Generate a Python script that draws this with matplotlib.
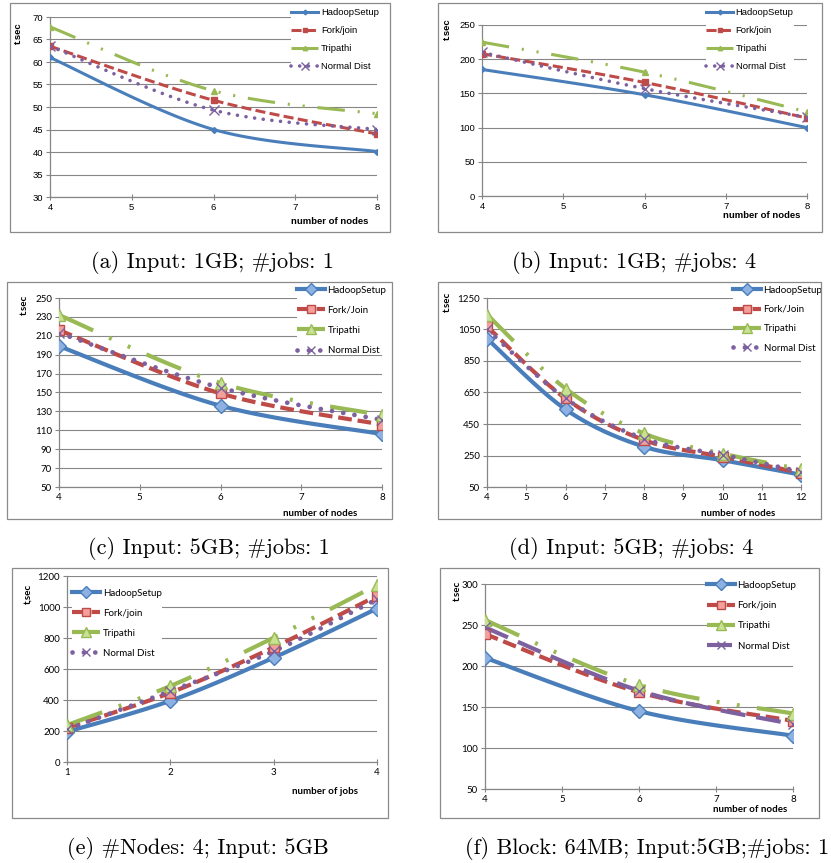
import numpy as np
import matplotlib
matplotlib.use("Agg")
import matplotlib.pyplot as plt
from matplotlib.lines import Line2D
from matplotlib.patches import Rectangle

W, H = 831, 863

series_names = ["HadoopSetup", "Fork/join", "Tripathi", "Normal Dist"]

# (a) Input: 1GB; #jobs: 1
nodes_a = [4, 6, 8]
hadoop_a = [61, 45, 40.1]
fork_a = [63.5, 51.5, 44]
tripathi_a = [67.8, 53.6, 48.5]
normal_a = [63.5, 49.3, 45]

# (b) Input: 1GB; #jobs: 4
nodes_b = [4, 6, 8]
hadoop_b = [185, 148, 100]
fork_b = [208, 166, 114]
tripathi_b = [225, 181, 123]
normal_b = [210, 157, 115]

# (c) Input: 5GB; #jobs: 1
nodes_c = [4, 6, 8]
hadoop_c = [199, 136, 106]
fork_c = [216, 149, 116]
tripathi_c = [232, 160, 126]
normal_c = [213, 155, 121]

# (d) Input: 5GB; #jobs: 4
nodes_d = [4, 6, 8, 10, 12]
hadoop_d = [992, 543, 306, 220, 128]
fork_d = [1070, 612, 348, 242, 140]
tripathi_d = [1145, 675, 390, 262, 162]
normal_d = [1052, 612, 357, 255, 147]

# (e) #Nodes: 4; Input: 5GB
jobs_e = [1, 2, 3, 4]
hadoop_e = [195, 395, 673, 990]
fork_e = [221, 447, 740, 1072]
tripathi_e = [238, 490, 802, 1142]
normal_e = [210, 458, 715, 1050]

# (f) Block: 64MB; Input:5GB;#jobs: 1
nodes_f = [4, 6, 8]
hadoop_f = [210, 145, 115]
fork_f = [239, 168, 133]
tripathi_f = [256, 177, 142]
normal_f = [247, 170, 129]

captions = ["(a) Input: 1GB; #jobs: 1", "(b) Input: 1GB; #jobs: 4",
            "(c) Input: 5GB; #jobs: 1", "(d) Input: 5GB; #jobs: 4",
            "(e) #Nodes: 4; Input: 5GB", "(f) Block: 64MB; Input:5GB;#jobs: 1"]

BLUE, RED, GREEN, PURPLE = "#4A7EBB", "#BE4B48", "#98B954", "#7D60A0"
LBLUE, LRED, LGREEN = "#8DB1E2", "#F3A09D", "#C8E294"
GRID = "#868686"


def fx(px):
    return px / W


def fy(py):
    return 1 - py / H


def smooth(x, y, n=40):
    # excel-like smoothed line (catmull-rom through the data points)
    p = np.column_stack([x, y]).astype(float)
    ext = np.vstack([p[0], p, p[-1]])
    m = (ext[2:] - ext[:-2]) / 2
    t = np.linspace(0, 1, n)[:, None]
    h00 = 2 * t**3 - 3 * t**2 + 1
    h10 = t**3 - 2 * t**2 + t
    h01 = -2 * t**3 + 3 * t**2
    h11 = t**3 - t**2
    segs = []
    for i in range(len(p) - 1):
        seg = h00 * p[i] + h10 * m[i] + h01 * p[i + 1] + h11 * m[i + 1]
        segs.append(seg if i == 0 else seg[1:])
    c = np.vstack(segs)
    return c[:, 0], c[:, 1]


def styles(big, normal_dashed=False):
    lw = 3.0 if big else 2.2
    ms = 7.5 if big else 3.5
    st = [
        dict(color=BLUE, lw=lw, ls="-", marker="D", ms=ms if big else 3,
             mfc=LBLUE if big else BLUE, mec=BLUE, mew=1, cap="butt"),
        dict(color=RED, lw=lw, ls=(0, (3.3, 1.4)), marker="s", ms=ms if big else 4,
             mfc=LRED if big else RED, mec=RED, mew=1, cap="butt"),
        dict(color=GREEN, lw=lw, ls=(0, (9, 4.2, 0.7, 4.2, 0.7, 4.2)), marker="^",
             ms=ms + 1 if big else 4, mfc=LGREEN if big else GREEN, mec=GREEN, mew=1,
             cap="butt"),
        dict(color=PURPLE, lw=lw + 0.4, ls=(0, (0.01, 2.4)), marker="x", ms=7,
             mfc=PURPLE, mec=PURPLE, mew=1, cap="round"),
    ]
    if normal_dashed:
        st[3]["ls"] = (0, (6, 2.6))
        st[3]["lw"] = lw
        st[3]["cap"] = "butt"
    return st


panels = [
    dict(x=nodes_a, ys=[hadoop_a, fork_a, tripathi_a, normal_a],
         ax=(50, 17, 377, 197), box=(10, 3, 390, 232), ylim=(30, 70), ystep=5,
         big=False, font="Liberation Sans", names=series_names,
         leg=(291, 15, 18.5), ylab=("t.sec", 18, 33), xlab=(368, 222),
         cap=(212, 263)),
    dict(x=nodes_b, ys=[hadoop_b, fork_b, tripathi_b, normal_b],
         ax=(482, 25, 807, 196), box=(438, 3, 822, 232), ylim=(0, 250), ystep=50,
         big=False, font="Liberation Sans", names=series_names,
         leg=(706, 15, 18.5), ylab=("t.sec", 447, 29), xlab=(800, 215),
         cap=(634, 263)),
    dict(x=nodes_c, ys=[hadoop_c, fork_c, tripathi_c, normal_c],
         ax=(59, 298, 382, 487), box=(7, 282, 392, 519), ylim=(50, 250), ystep=20,
         big=True, font="Lato", names=["HadoopSetup", "Fork/Join", "Tripathi", "Normal Dist"],
         leg=(297, 293, 20.8), ylab=("t.sec", 24, 305), xlab=(357, 513),
         cap=(209, 548)),
    dict(x=nodes_d, ys=[hadoop_d, fork_d, tripathi_d, normal_d],
         ax=(487, 298, 801, 487), box=(438, 282, 821, 519), ylim=(50, 1250), ystep=200,
         big=True, font="Lato", names=["HadoopSetup", "Fork/Join", "Tripathi", "Normal Dist"],
         leg=(733, 293, 20), ylab=("t.sec", 447, 302), xlab=(775, 513),
         cap=(631, 548)),
    dict(x=jobs_e, ys=[hadoop_e, fork_e, tripathi_e, normal_e],
         ax=(67, 576, 377, 762), box=(12, 568, 388, 818), ylim=(0, 1200), ystep=200,
         big=True, font="Lato", names=series_names,
         leg=(72, 596, 20.7), ylab=("t,sec", 28, 594), xlab=(358, 791),
         cap=(198, 848), xname="number of jobs"),
    dict(x=nodes_f, ys=[hadoop_f, fork_f, tripathi_f, normal_f],
         ax=(485, 584, 793, 789), box=(440, 568, 819, 818), ylim=(50, 300), ystep=50,
         big=True, font="Lato", names=series_names, normal_dashed=True,
         leg=(707, 588, 21), ylab=("t.sec", 457, 591), xlab=(787, 809),
         cap=(647, 848)),
]

fig = plt.figure(figsize=(W / 100, H / 100), dpi=100)

for i, p in enumerate(panels):
    l, t, r, b = p["ax"]
    ax = fig.add_axes([fx(l), fy(b), fx(r) - fx(l), fy(t) - fy(b)])
    st = styles(p["big"], p.get("normal_dashed", False))
    fs = 7 if p["big"] else 6.8
    font = p["font"]

    for ys, s in zip(p["ys"], st):
        sx, sy = smooth(p["x"], ys)
        ax.plot(sx, sy, color=s["color"], lw=s["lw"], ls=s["ls"],
                solid_capstyle="butt", dash_capstyle=s["cap"], zorder=3)
        ax.plot(p["x"], ys, ls="none", marker=s["marker"], ms=s["ms"],
                mfc=s["mfc"], mec=s["mec"], mew=s["mew"], zorder=4)

    x = p["x"]
    ax.set_xlim(x[0], x[-1])
    ax.set_ylim(*p["ylim"])
    ax.set_xticks(np.arange(x[0], x[-1] + 1, 1))
    ax.set_yticks(np.arange(p["ylim"][0], p["ylim"][1] + 1, p["ystep"]))
    ax.yaxis.grid(True, color=GRID, lw=0.8)
    ax.set_axisbelow(True)
    for side in ["top", "right"]:
        ax.spines[side].set_visible(False)
    for side in ["left", "bottom"]:
        ax.spines[side].set_color(GRID)
        ax.spines[side].set_linewidth(0.9)
    ax.tick_params(axis="x", direction="inout", length=4, width=0.8, color=GRID,
                   labelsize=fs, pad=2)
    ax.tick_params(axis="y", direction="out", length=3, width=0.8, color=GRID,
                   labelsize=fs, pad=2)
    for lab in ax.get_xticklabels() + ax.get_yticklabels():
        lab.set_fontfamily(font)

    # legend
    lx, ly, pitch = p["leg"]
    handles = [Line2D([], [], color=s["color"], lw=s["lw"], ls=s["ls"],
                      dash_capstyle=s["cap"], marker=s["marker"], ms=s["ms"] * 0.8,
                      mfc=s["mfc"], mec=s["mec"], mew=s["mew"]) for s in st]
    lfs = 7 if p["big"] else 6.8
    leg = ax.legend(handles, p["names"], loc="upper left",
                    bbox_to_anchor=(fx(lx), fy(ly - 0.75 * lfs * 1.39)),
                    bbox_transform=fig.transFigure, borderaxespad=0, borderpad=0,
                    handlelength=2.9, handletextpad=0.25,
                    labelspacing=pitch / (lfs * 1.389) - 1,
                    prop=dict(family=font, size=lfs), frameon=True,
                    facecolor="white", edgecolor="none", framealpha=1)
    leg.set_zorder(5)

    ylab, yx, yy = p["ylab"]
    fig.text(fx(yx), fy(yy), ylab, rotation=90, ha="center", va="center",
             family=font, size=fs, weight="bold")
    xlx, xly = p["xlab"]
    fig.text(fx(xlx), fy(xly), p.get("xname", "number of nodes"), ha="right",
             va="center", family=font, size=fs, weight="bold")

    bx0, by0, bx1, by1 = p["box"]
    fig.patches.append(Rectangle((fx(bx0), fy(by1)), fx(bx1) - fx(bx0),
                                 fy(by0) - fy(by1), transform=fig.transFigure,
                                 fill=False, ec="#8a8a8a", lw=0.9))

    cx, cy = p["cap"]
    fig.text(fx(cx), fy(cy), captions[i], ha="center", va="center",
             family="cmr10", size=16)

fig.savefig("out.png", dpi=100)
